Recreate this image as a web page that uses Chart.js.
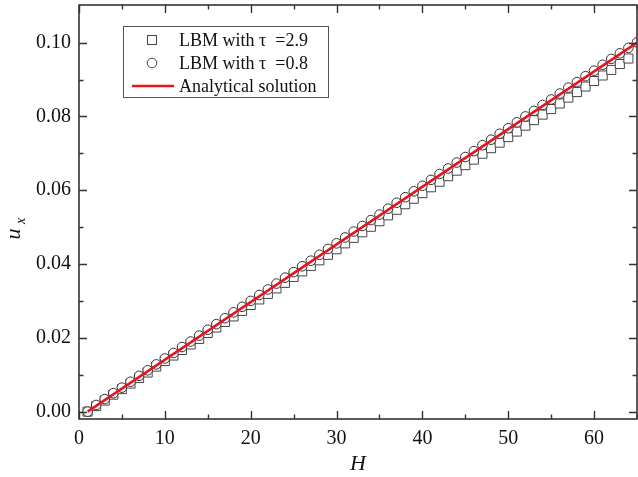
<!DOCTYPE html>
<html>
<head>
<meta charset="utf-8">
<script src="https://cdn.jsdelivr.net/npm/chart.js@4"></script>
<style>
  html, body { margin: 0; padding: 0; background: #fff; }
  #wrap { width: 638px; height: 477px; }
</style>
</head>
<body>
<div id="wrap"><canvas id="myChart"></canvas></div>
<script>
// values
const H = [1,2,3,4,5,6,7,8,9,10,11,12,13,14,15,16,17,18,19,20,21,22,23,24,25,26,27,28,29,30,31,32,
  33,34,35,36,37,38,39,40,41,42,43,44,45,46,47,48,49,50,51,52,53,54,55,56,57,58,59,60,61,62,63,64,65];

// LBM tau = 2.9 (squares, H = 1..64)
const uTau29 = [0.0000,0.0015,0.0030,0.0046,0.0061,0.0076,0.0091,0.0106,0.0122,0.0137,0.0152,0.0167,
  0.0182,0.0197,0.0213,0.0228,0.0243,0.0258,0.0273,0.0289,0.0304,0.0319,0.0334,0.0349,0.0365,0.0380,
  0.0395,0.0410,0.0425,0.0440,0.0456,0.0471,0.0486,0.0501,0.0516,0.0532,0.0547,0.0562,0.0577,0.0592,
  0.0608,0.0623,0.0638,0.0653,0.0668,0.0683,0.0699,0.0714,0.0729,0.0744,0.0759,0.0775,0.0790,0.0805,
  0.0820,0.0835,0.0851,0.0866,0.0881,0.0896,0.0911,0.0926,0.0942,0.0957];

// LBM tau = 0.8 (circles, H = 1..65)
const uTau08 = [0.0000,0.0018,0.0034,0.0050,0.0065,0.0081,0.0097,0.0112,0.0128,0.0144,0.0159,0.0175,
  0.0190,0.0206,0.0222,0.0237,0.0253,0.0269,0.0284,0.0300,0.0316,0.0331,0.0347,0.0363,0.0378,0.0394,
  0.0409,0.0425,0.0441,0.0456,0.0472,0.0488,0.0503,0.0519,0.0534,0.0550,0.0566,0.0581,0.0597,0.0612,
  0.0628,0.0644,0.0659,0.0675,0.0690,0.0706,0.0722,0.0737,0.0753,0.0768,0.0784,0.0800,0.0815,0.0831,
  0.0846,0.0862,0.0878,0.0893,0.0909,0.0924,0.0940,0.0956,0.0971,0.0986,0.1001];

// analytical solution (straight line)
const analyticH = [1, 65];
const analyticU = [0, 0.1];

const labels = ['LBM with \u03C4  =2.9', 'LBM with \u03C4  =0.8', 'Analytical solution'];
const xTicks = [0, 10, 20, 30, 40, 50, 60];
const xMinor = [5, 15, 25, 35, 45, 55, 65];
const yTicks = [0, 0.02, 0.04, 0.06, 0.08, 0.10];
const yMinor = [0.01, 0.03, 0.05, 0.07, 0.09];

const serif = '"Liberation Serif", "Times New Roman", serif';
const red = '#e8141c';

function pts(xs, ys) {
  return ys.map((y, i) => ({ x: xs[i], y: y }));
}

// frame, inward ticks, legend, y title
const decor = {
  id: 'decor',
  afterDraw(chart) {
    const ctx = chart.ctx;
    const a = chart.chartArea;
    const xs = chart.scales.x, ys = chart.scales.y;
    ctx.save();
    ctx.strokeStyle = '#333';
    ctx.lineWidth = 1.6;
    ctx.strokeRect(a.left, a.top, a.right - a.left, a.bottom - a.top);

    ctx.lineWidth = 1.4;
    ctx.beginPath();
    const tickX = (vals, len) => vals.forEach(v => {
      const p = Math.round(xs.getPixelForValue(v)) + 0.5;
      ctx.moveTo(p, a.bottom); ctx.lineTo(p, a.bottom - len);
      ctx.moveTo(p, a.top); ctx.lineTo(p, a.top + len);
    });
    const tickY = (vals, len) => vals.forEach(v => {
      const p = Math.round(ys.getPixelForValue(v)) + 0.5;
      ctx.moveTo(a.left, p); ctx.lineTo(a.left + len, p);
      ctx.moveTo(a.right, p); ctx.lineTo(a.right - len, p);
    });
    tickX(xTicks, 8); tickX(xMinor, 4.5);
    tickY(yTicks, 8); tickY(yMinor, 4.5);
    ctx.stroke();

    // legend
    const bx = 123, by = 26, bw = 205, bh = 71;
    ctx.lineWidth = 1;
    ctx.strokeStyle = '#555';
    ctx.strokeRect(bx + 0.5, by + 0.5, bw, bh);
    const sx = bx + 29;
    const rows = [by + 14, by + 37, by + 60];
    ctx.strokeStyle = '#444';
    ctx.strokeRect(sx - 4.5, rows[0] - 4.5, 9, 9);
    ctx.beginPath();
    ctx.arc(sx, rows[1], 4.8, 0, Math.PI * 2);
    ctx.stroke();
    ctx.strokeStyle = red;
    ctx.lineWidth = 2.5;
    ctx.beginPath();
    ctx.moveTo(bx + 9, rows[2]); ctx.lineTo(bx + 51, rows[2]);
    ctx.stroke();
    ctx.fillStyle = '#111';
    ctx.font = '18px ' + serif;
    ctx.textBaseline = 'middle';
    ctx.textAlign = 'left';
    chart.data.datasets.forEach((d, i) => ctx.fillText(d.label, bx + 56, rows[i] + 1));

    // y title: u with subscript x
    ctx.translate(20, 234);
    ctx.rotate(-Math.PI / 2);
    ctx.font = 'italic 22px ' + serif;
    ctx.textBaseline = 'alphabetic';
    ctx.textAlign = 'center';
    ctx.fillText('u', 0, 0);
    ctx.font = 'italic 14px ' + serif;
    ctx.fillText('x', 13, 5);
    ctx.restore();
  }
};

const config = {
  type: 'scatter',
  data: {
    datasets: [
      {
        label: labels[0],
        data: pts(H, uTau29),
        pointStyle: 'rect',
        pointRadius: 6.4,
        pointBorderWidth: 1,
        borderColor: '#444',
        backgroundColor: '#fff',
        order: 3
      },
      {
        label: labels[1],
        data: pts(H, uTau08),
        pointStyle: 'circle',
        pointRadius: 4.8,
        pointBorderWidth: 1,
        borderColor: '#333',
        backgroundColor: '#fff',
        order: 2
      },
      {
        label: labels[2],
        data: pts(analyticH, analyticU),
        showLine: true,
        pointRadius: 0,
        borderColor: red,
        borderWidth: 2.5,
        order: 1
      }
    ]
  },
  options: {
    responsive: true,
    maintainAspectRatio: false,
    animation: false,
    layout: { autoPadding: false, padding: { top: 5, right: 1, left: 0, bottom: 0 } },
    plugins: {
      legend: { display: false },
      tooltip: { enabled: false }
    },
    scales: {
      x: {
        type: 'linear',
        min: 0,
        max: 65,
        afterBuildTicks: s => { s.ticks = xTicks.map(v => ({ value: v })); },
        afterFit: s => { s.height = 58; s.paddingLeft = 0; s.paddingRight = 0; },
        grid: { display: false, drawTicks: false },
        border: { display: false },
        ticks: { color: '#111', font: { family: serif, size: 20 }, padding: 8, maxRotation: 0 },
        title: {
          display: true,
          text: 'H',
          color: '#111',
          font: { family: serif, size: 22, style: 'italic' },
          padding: { top: 0, bottom: 0 }
        }
      },
      y: {
        type: 'linear',
        min: -0.002,
        max: 0.1102,
        afterBuildTicks: s => { s.ticks = yTicks.map(v => ({ value: v })); },
        afterFit: s => { s.width = 79; s.paddingTop = 0; s.paddingBottom = 0; },
        grid: { display: false, drawTicks: false },
        border: { display: false },
        ticks: {
          color: '#111',
          font: { family: serif, size: 20 },
          padding: 8,
          callback: v => v.toFixed(2)
        }
      }
    }
  },
  plugins: [decor]
};

new Chart(document.getElementById('myChart'), config);
</script>
</body>
</html>
